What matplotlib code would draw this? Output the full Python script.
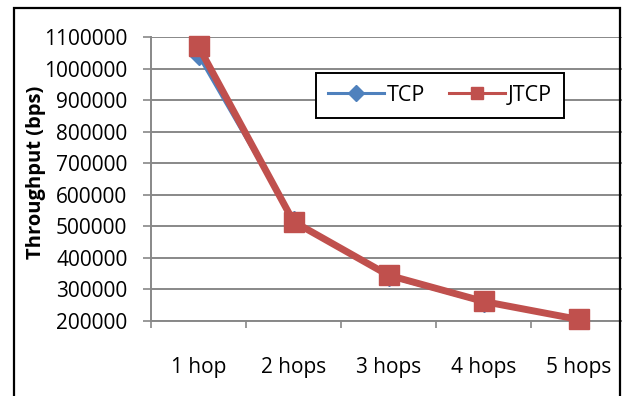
import matplotlib
matplotlib.use("Agg")
import matplotlib.pyplot as plt
from matplotlib.lines import Line2D
from matplotlib.patches import Rectangle

categories = ["1 hop", "2 hops", "3 hops", "4 hops", "5 hops"]
tcp = [1040000, 520000, 340000, 258000, 207000]
jtcp = [1070000, 515000, 345000, 262000, 205000]
yticks = [200000, 300000, 400000, 500000, 600000, 700000, 800000, 900000, 1000000, 1100000]

plt.rcParams['font.family'] = ['Open Sans', 'DejaVu Sans']

W, H = 622, 396
fig = plt.figure(figsize=(W / 100, H / 100), dpi=100)
fig.patch.set_facecolor("white")

left, right, top, bottom = 151, 626, 37, 321
ax = fig.add_axes([left / W, 1 - bottom / H, (right - left) / W, (bottom - top) / H])

blue = "#4F81BD"
red = "#C0504D"
grid = "#888888"

x = list(range(len(categories)))
ax.plot(x, tcp, color=blue, lw=2.2, marker="D", ms=9, mfc=blue, mec=blue, zorder=3, clip_on=False)
ax.plot(x, jtcp, color=red, lw=5, marker="s", ms=14, mfc=red, mec=red, zorder=4, clip_on=False)

ax.set_xlim(-0.5, 4.5)
ax.set_ylim(200000, 1100000)
ax.set_yticks(yticks)
ax.set_yticklabels([str(v) for v in yticks], fontsize=15)
ax.set_xticks([i - 0.5 for i in range(len(categories) + 1)])
ax.set_xticklabels([])
ax.set_xticks(x, minor=True)
ax.set_xticklabels(categories, minor=True, fontsize=15)
ax.tick_params(axis="x", which="minor", length=0, pad=26)
ax.tick_params(axis="x", which="major", length=5, width=1.2, color=grid)
ax.tick_params(axis="y", length=6, width=1.2, color=grid, pad=11)

ax.grid(axis="y", color=grid, lw=1.4)
ax.set_axisbelow(True)
for s in ["top", "right"]:
    ax.spines[s].set_visible(False)
for s in ["left", "bottom"]:
    ax.spines[s].set_color(grid)
    ax.spines[s].set_linewidth(1.4)

ax.set_ylabel("Throughput (bps)", fontsize=14.5, fontweight="bold")
ax.yaxis.set_label_coords((46 - left) / (right - left), (bottom - 172.5) / (bottom - top))

handles = [
    Line2D([], [], color=blue, lw=2.2, marker="D", ms=8, mfc=blue, mec=blue),
    Line2D([], [], color=red, lw=2.2, marker="s", ms=8, mfc=red, mec=red),
]
leg = fig.legend(handles, ["TCP", "JTCP"], loc="upper left",
                 bbox_to_anchor=(316 / W, 1 - 73 / H), ncol=2, fontsize=15.5,
                 frameon=True, fancybox=False, edgecolor="black", framealpha=1,
                 handlelength=2.6, handletextpad=0.15, columnspacing=1.1,
                 borderpad=0.55, borderaxespad=0)
leg.get_frame().set_linewidth(1.4)

fig.patches.append(Rectangle((14 / W, -0.1), (620 - 14) / W, 1.1 - 8 / H,
                             transform=fig.transFigure, fill=False,
                             edgecolor="black", lw=1.6, zorder=10))

fig.savefig("out.png", dpi=100)
